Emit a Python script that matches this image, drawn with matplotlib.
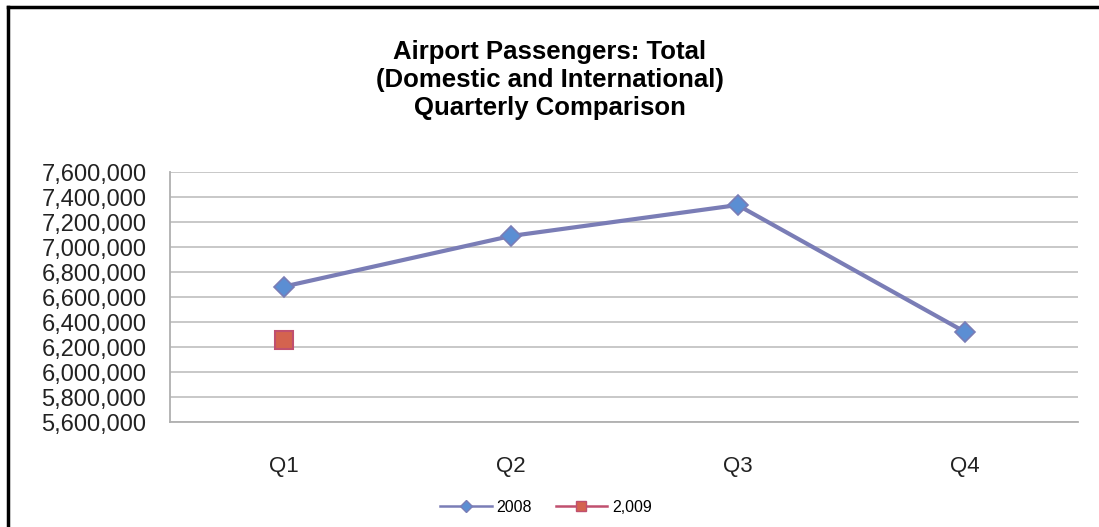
"""Airport passengers quarterly comparison chart"""
import matplotlib
matplotlib.use('Agg')
import matplotlib.pyplot as plt
from matplotlib.lines import Line2D
from matplotlib.ticker import FuncFormatter

plt.rcParams['font.family'] = ['Liberation Sans', 'DejaVu Sans']

quarters = ['Q1', 'Q2', 'Q3', 'Q4']
passengers_2008 = [6685000, 7090000, 7338000, 6325000]
passengers_2009 = [6258000]
series_names = ['2008', '2,009']

line_2008 = '#7A7DB6'
face_2008 = '#5B8ED3'
line_2009 = '#C0506F'
face_2009 = '#D4634F'

fig = plt.figure(figsize=(10.99, 5.27), dpi=100)
ax = fig.add_axes([170 / 1099, 1 - 422.3 / 527, 908 / 1099, 250 / 527])

x = list(range(len(quarters)))
ax.plot(x, passengers_2008, color=line_2008, lw=3, marker='D', ms=10,
        mfc=face_2008, mec=line_2008, mew=1.2, zorder=3)
ax.plot(x[:len(passengers_2009)], passengers_2009, color=line_2009, lw=3,
        marker='s', ms=13, mfc=face_2009, mec=line_2009, mew=1.5, zorder=3)

ax.set_xlim(-0.5, 3.5)
ax.set_ylim(5600000, 7600000)
ax.set_yticks(range(5600000, 7600001, 200000))
ax.yaxis.set_major_formatter(FuncFormatter(lambda v, p: f'{int(v):,}'))
ax.set_xticks(x)
ax.set_xticklabels(quarters)
ax.tick_params(axis='y', length=0, pad=17, labelsize=17, labelcolor='#222222')
ax.tick_params(axis='x', length=0, pad=24, labelsize=16, labelcolor='#222222')
ax.grid(axis='y', color='#C4C4C4', lw=1.3)
ax.set_axisbelow(True)
for side in ['top', 'right']:
    ax.spines[side].set_visible(False)
for side in ['left', 'bottom']:
    ax.spines[side].set_color('#B0B0B0')
    ax.spines[side].set_linewidth(1.3)

fig.text(0.5, 1 - 80 / 527, 'Airport Passengers: Total\n(Domestic and International)\nQuarterly Comparison',
         ha='center', va='center', fontsize=18.5, fontweight='bold', linespacing=1.2)

handles = [
    Line2D([], [], color=line_2008, lw=1.8, marker='D', ms=6, mfc=face_2008, mec=line_2008),
    Line2D([], [], color=line_2009, lw=1.8, marker='s', ms=7, mfc=face_2009, mec=line_2009),
]
fig.legend(handles, series_names, loc='center', bbox_to_anchor=(546 / 1099, 1 - 507 / 527),
           ncol=2, frameon=False, fontsize=11.5, handlelength=3.2, handletextpad=0.3,
           columnspacing=1.5)

# outer frame (top and left edges visible)
fig.add_artist(Line2D([8 / 1099, 8 / 1099], [0, 1 - 7 / 527], color='black', lw=2.5,
                      transform=fig.transFigure))
fig.add_artist(Line2D([8 / 1099, 1], [1 - 7 / 527, 1 - 7 / 527], color='black', lw=2.5,
                      transform=fig.transFigure))

fig.savefig('out.png', dpi=100)
